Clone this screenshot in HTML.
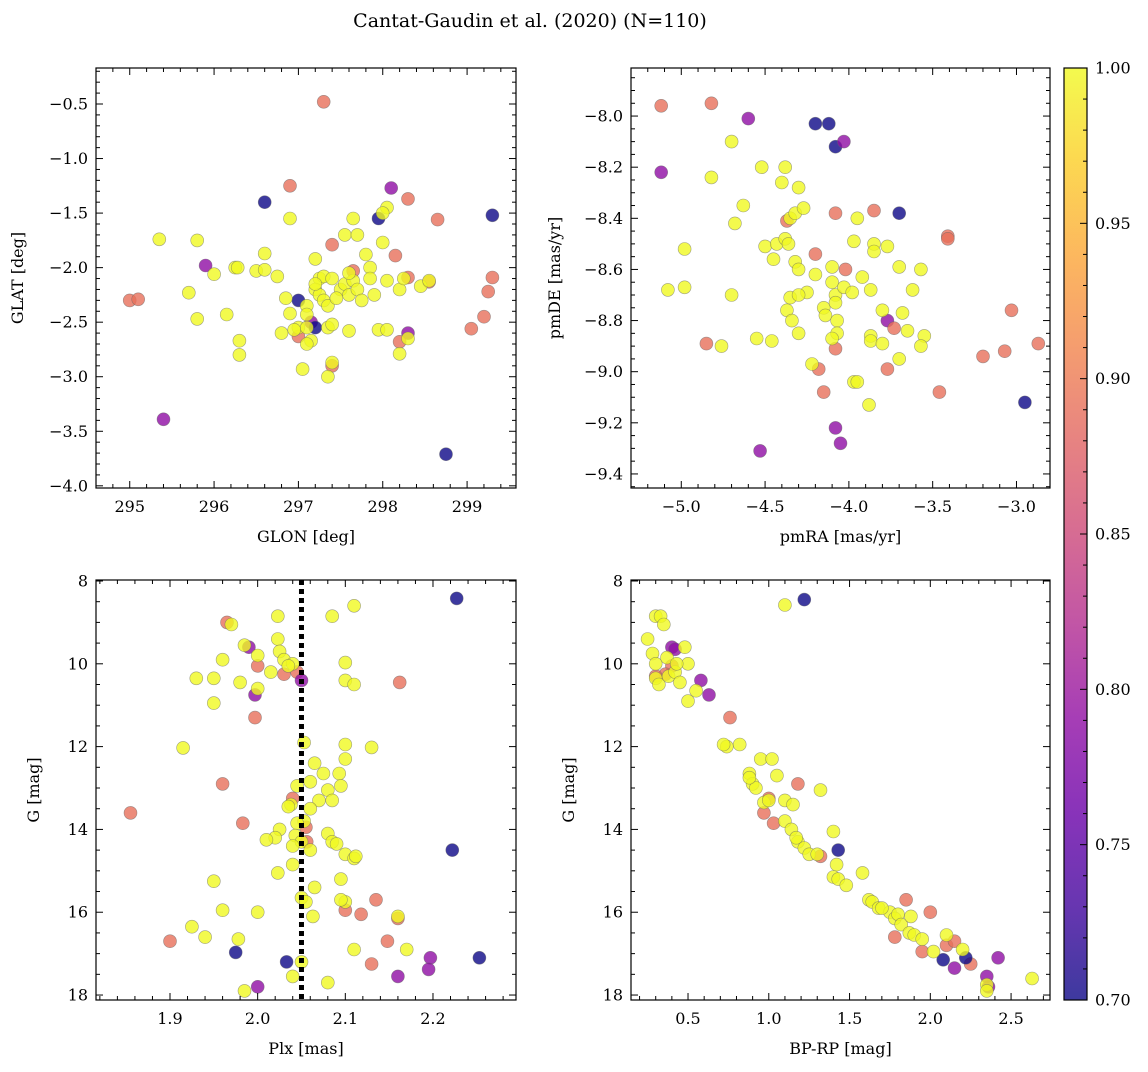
<!DOCTYPE html>
<html><head><meta charset="utf-8"><style>
body{margin:0;background:#fff}
svg text{font-family:"DejaVu Serif","Liberation Serif",serif;fill:#000}
</style></head><body>
<svg id="fig" width="1148" height="1067" viewBox="0 0 1148 1067" xmlns="http://www.w3.org/2000/svg">
<defs><linearGradient id="plasma" x1="0" y1="1" x2="0" y2="0">
<stop offset="0" stop-color="#0d0887"/><stop offset="0.1" stop-color="#41049d"/><stop offset="0.2" stop-color="#6a00a8"/><stop offset="0.3" stop-color="#8f0da4"/><stop offset="0.4" stop-color="#b12a90"/><stop offset="0.5" stop-color="#cc4778"/><stop offset="0.6" stop-color="#e16462"/><stop offset="0.7" stop-color="#f2844b"/><stop offset="0.8" stop-color="#fca636"/><stop offset="0.9" stop-color="#fcce25"/><stop offset="1" stop-color="#f0f921"/></linearGradient></defs>
<text x="530" y="27" font-size="19" text-anchor="middle">Cantat-Gaudin et al. (2020) (N=110)</text>
</svg>
<script>
const p1x=[297.3,296.6,296.9,298.1,298.3,299.3,298.65,297.95,295.9,297.4,298.15,297.65,298.3,299.3,298.55,295.0,295.1,297.0,299.25,299.2,299.05,297.15,297.2,297.0,298.3,298.2,297.4,295.4,298.75,
295.35,295.8,296.0,295.7,295.8,296.15,296.25,296.28,296.5,296.6,296.6,296.3,296.3,296.75,296.8,296.9,296.85,296.9,297.0,296.95,297.05,297.1,297.1,297.15,297.1,297.2,297.25,297.3,297.2,297.25,297.3,297.35,297.2,297.5,297.45,297.55,297.6,297.65,297.7,297.75,297.6,297.4,297.35,297.4,297.6,297.65,297.55,297.7,297.8,297.85,297.85,297.9,297.95,298.05,298.0,298.05,298.0,298.05,298.2,298.25,298.2,298.3,298.45,298.55,297.4,297.35,297.1];
const p1y=[-0.48,-1.4,-1.25,-1.27,-1.37,-1.52,-1.56,-1.55,-1.98,-1.79,-1.89,-2.03,-2.09,-2.09,-2.13,-2.3,-2.29,-2.3,-2.22,-2.45,-2.56,-2.5,-2.55,-2.63,-2.6,-2.68,-2.9,-3.39,-3.71,
-1.74,-1.75,-2.06,-2.23,-2.47,-2.43,-2.0,-2.0,-2.03,-2.02,-1.87,-2.67,-2.8,-2.08,-2.6,-1.55,-2.28,-2.42,-2.55,-2.57,-2.93,-2.35,-2.43,-2.67,-2.55,-1.92,-2.1,-2.08,-2.2,-2.25,-2.3,-2.35,-2.15,-2.2,-2.28,-2.15,-2.25,-2.12,-2.2,-2.3,-2.05,-2.1,-2.55,-2.52,-2.58,-1.55,-1.7,-1.7,-1.88,-2.0,-2.1,-2.25,-2.57,-2.57,-1.77,-1.45,-1.5,-2.12,-2.2,-2.1,-2.79,-2.65,-2.17,-2.12,-2.87,-3.0,-2.7];
const p1c="SDSPSDSDPSSSSSSSSDSSSPDSPSSPD";
const p2x=[-5.12,-4.82,-4.6,-4.2,-4.12,-4.08,-4.03,-5.12,-3.7,-4.08,-3.85,-4.37,-3.41,-3.41,-4.2,-4.02,-4.85,-3.77,-3.73,-4.08,-3.03,-3.2,-3.07,-2.87,-4.18,-3.77,-4.15,-3.46,-2.95,-4.08,-4.05,-4.53,
-4.7,-4.52,-4.38,-4.82,-4.4,-4.3,-4.63,-4.35,-4.32,-4.27,-4.68,-4.98,-4.5,-4.43,-4.38,-4.36,-4.45,-4.32,-4.3,-4.2,-4.1,-3.95,-3.85,-3.77,-3.7,-3.85,-3.97,-3.92,-4.1,-4.08,-4.03,-3.98,-4.25,-4.35,-4.3,-4.37,-4.34,-4.3,-4.15,-4.14,-4.08,-4.07,-4.07,-4.1,-3.87,-3.8,-3.68,-3.62,-3.57,-3.65,-3.55,-3.57,-3.87,-3.87,-3.8,-4.7,-5.08,-4.98,-4.76,-4.55,-4.46,-3.97,-3.95,-3.88,-4.22,-3.7];
const p2y=[-7.96,-7.95,-8.01,-8.03,-8.03,-8.12,-8.1,-8.22,-8.38,-8.38,-8.37,-8.41,-8.47,-8.48,-8.54,-8.6,-8.89,-8.8,-8.83,-8.91,-8.76,-8.94,-8.92,-8.89,-8.99,-8.99,-9.08,-9.08,-9.12,-9.22,-9.28,-9.31,
-8.1,-8.2,-8.2,-8.24,-8.26,-8.28,-8.35,-8.4,-8.38,-8.36,-8.42,-8.52,-8.51,-8.5,-8.48,-8.5,-8.56,-8.57,-8.6,-8.62,-8.59,-8.4,-8.5,-8.51,-8.59,-8.53,-8.49,-8.63,-8.65,-8.7,-8.67,-8.69,-8.69,-8.71,-8.7,-8.76,-8.8,-8.85,-8.75,-8.78,-8.73,-8.8,-8.85,-8.87,-8.68,-8.76,-8.77,-8.68,-8.6,-8.84,-8.86,-8.9,-8.86,-8.88,-8.89,-8.7,-8.68,-8.67,-8.9,-8.87,-8.88,-9.04,-9.04,-9.13,-8.97,-8.95];
const p2c="SSPDDDPPDSSSSSSSSPSSSSSSSSSSDPPP";
const p3x=[2.227,1.965,1.99,2.0,2.045,2.03,2.05,2.162,1.997,1.997,1.96,1.855,1.983,2.04,2.055,2.056,2.222,2.135,2.1,2.118,2.16,1.9,2.148,1.975,2.197,2.253,2.033,2.13,2.195,2.16,2.0,
2.11,2.085,2.023,1.97,2.023,1.985,2.025,2.0,1.96,2.03,2.04,2.035,2.015,1.98,1.93,1.95,2.1,2.1,2.11,2.0,1.95,1.915,2.053,2.1,2.13,2.1,2.065,2.06,2.075,2.093,2.08,2.095,2.085,2.07,2.045,2.038,2.035,2.06,2.053,2.045,2.043,2.05,2.025,2.02,2.01,2.04,2.06,2.08,2.085,2.09,2.1,2.11,2.112,2.04,2.023,1.95,2.05,2.065,2.055,2.063,2.095,2.1,2.095,1.96,2.0,1.925,1.94,1.978,2.16,2.17,2.11,2.05,2.04,2.08,1.985];
const p3y=[8.42,9.0,9.6,10.05,10.2,10.25,10.4,10.45,10.75,11.3,12.9,13.6,13.85,13.25,13.95,14.3,14.5,15.7,15.95,16.05,16.15,16.7,16.7,16.97,17.1,17.1,17.2,17.25,17.38,17.55,17.8,
8.6,8.85,8.85,9.05,9.4,9.55,9.7,9.8,9.9,9.9,10.0,10.05,10.2,10.45,10.35,10.35,9.97,10.4,10.5,10.6,10.95,12.03,11.9,11.95,12.02,12.3,12.4,12.85,12.65,12.65,13.05,12.95,13.3,13.3,12.95,13.4,13.45,13.5,13.8,13.85,14.15,14.3,14.0,14.2,14.25,14.4,14.5,14.1,14.3,14.35,14.6,14.7,14.65,14.85,15.05,15.25,15.65,15.4,15.75,16.1,15.2,15.75,15.7,15.95,16.0,16.35,16.6,16.65,16.1,16.9,16.9,17.2,17.55,17.7,17.9];
const p3c="DSPSSSPSPSSSSSSSDSSSSSSDPDDSPPP";
const p4x=[1.22,0.4,0.42,0.4,0.36,0.3,0.58,0.63,0.76,1.18,1.0,0.97,1.03,1.32,1.43,1.85,1.78,2.0,2.1,2.15,2.25,2.42,2.08,2.22,2.15,2.35,2.36,1.95,
0.25,0.3,0.33,0.35,0.28,0.3,0.3,0.32,0.37,0.38,0.42,0.45,0.5,0.43,0.48,0.55,0.5,1.1,0.74,0.72,0.82,0.88,0.9,0.92,0.88,0.95,0.97,1.0,1.02,1.05,1.1,1.1,1.15,1.14,1.18,1.17,1.22,1.25,1.3,1.32,1.4,1.42,1.4,1.43,1.48,1.58,1.62,1.64,1.68,1.75,1.7,1.78,1.8,1.82,1.88,1.87,1.9,1.95,2.02,2.1,2.2,2.35,2.35,2.63];
const p4y=[8.45,9.6,9.65,10.05,10.25,10.3,10.4,10.75,11.3,12.9,13.25,13.6,13.85,14.65,14.5,15.7,16.6,16.0,16.8,16.7,17.25,17.1,17.15,17.1,17.35,17.55,17.8,16.95,
9.4,8.85,8.85,9.05,9.75,10.0,10.35,10.5,9.85,10.3,10.2,10.45,10.0,10.0,9.6,10.65,10.9,8.58,12.0,11.95,11.95,12.65,12.9,13.0,12.75,12.3,13.35,13.3,12.3,12.7,13.3,13.8,13.4,14.0,14.3,14.2,14.45,14.6,14.6,13.05,14.05,14.85,15.15,15.2,15.35,15.05,15.7,15.75,15.9,16.0,15.9,16.15,16.05,16.3,16.1,16.5,16.55,16.65,16.95,16.55,16.9,17.75,17.9,17.6];
const p4c="DPPSSSPPSSSSSSDSSSSSSPDDPPPS";
const probMap={S:0.89,P:0.79,D:0.70,Y:1.0};
const cbTicks=[0.70,0.75,0.80,0.85,0.90,0.95,1.00];

const NS="http://www.w3.org/2000/svg";
const fig=document.getElementById('fig');
function mk(tag,attrs,parent){const e=document.createElementNS(NS,tag);for(const k in attrs)e.setAttribute(k,attrs[k]);(parent||fig).appendChild(e);return e;}
const stops=["#0d0887","#41049d","#6a00a8","#8f0da4","#b12a90","#cc4778","#e16462","#f2844b","#fca636","#fcce25","#f0f921"];
function hex(h){return [1,3,5].map(i=>parseInt(h.substr(i,2),16));}
function plasma(v){let t=Math.max(0,Math.min(1,(v-0.7)/0.3))*10;let i=Math.min(9,Math.floor(t));let f=t-i;const a=hex(stops[i]),b=hex(stops[i+1]);return 'rgb('+a.map((c,k)=>Math.round(c+(b[k]-c)*f)).join(',')+')';}
function fmt(v,d){return v.toFixed(d).replace('-','\u2212');}

function panel(o){
  const g=mk('g',{});
  
  
  const sx=v=>o.x0+(v-o.xmin)/(o.xmax-o.xmin)*(o.x1-o.x0);
  const sy=o.inv?(v=>o.y0+(v-o.ymin)/(o.ymax-o.ymin)*(o.y1-o.y0)):(v=>o.y1-(v-o.ymin)/(o.ymax-o.ymin)*(o.y1-o.y0));
  for(let i=0;i<o.xs.length;i++){
    const code=i<o.cs.length?o.cs[i]:'Y';
    const c=mk('circle',{cx:sx(o.xs[i]).toFixed(1),cy:sy(o.ys[i]).toFixed(1),r:6.5,fill:plasma(probMap[code]),'fill-opacity':0.8,stroke:'#666','stroke-opacity':0.6,'stroke-width':0.6},g);
    
    
  }
  if(o.vline!==undefined){
    const l=mk('line',{x1:sx(o.vline),x2:sx(o.vline),y1:o.y0,y2:o.y1,stroke:'#000','stroke-width':5,'stroke-dasharray':'5,4'},g);
    
    
  }
  const fr=mk('rect',{x:o.x0,y:o.y0,width:o.x1-o.x0,height:o.y1-o.y0,fill:'none',stroke:'#000','stroke-width':1.2},g);
  
  
  const eps=1e-9;
  const xs0=Math.ceil(o.xmin/o.xmin_step-eps)*o.xmin_step;
  for(let v=xs0;v<=o.xmax+eps;v+=o.xmin_step){
    const X=sx(v);const maj=Math.abs(v/o.xmaj-Math.round(v/o.xmaj))<1e-6;const L=maj?7:4;
    mk('line',{x1:X,x2:X,y1:o.y1,y2:o.y1-L,stroke:'#000','stroke-width':1},g);
    mk('line',{x1:X,x2:X,y1:o.y0,y2:o.y0+L,stroke:'#000','stroke-width':1},g);
    if(maj){const t=mk('text',{x:X,y:o.y1+24,'font-size':16,'text-anchor':'middle'},g);t.textContent=fmt(v,o.xd);
      }
  }
  const ys0=Math.ceil(o.ymin/o.ymin_step-eps)*o.ymin_step;
  for(let v=ys0;v<=o.ymax+eps;v+=o.ymin_step){
    const Y=sy(v);const maj=Math.abs(v/o.ymaj-Math.round(v/o.ymaj))<1e-6;const L=maj?7:4;
    mk('line',{x1:o.x0,x2:o.x0+L,y1:Y,y2:Y,stroke:'#000','stroke-width':1},g);
    mk('line',{x1:o.x1,x2:o.x1-L,y1:Y,y2:Y,stroke:'#000','stroke-width':1},g);
    if(maj){const t=mk('text',{x:o.x0-8,y:Y+5.5,'font-size':16,'text-anchor':'end'},g);t.textContent=fmt(v,o.yd);
      }
  }
  const xl=mk('text',{x:(o.x0+o.x1)/2,y:o.y1+54,'font-size':16,'text-anchor':'middle'},g);xl.textContent=o.xlabel;
  
  const yx=o.x0-o.ylabOff;const yy=(o.y0+o.y1)/2;
  const yl=mk('text',{x:yx,y:yy,'font-size':16,'text-anchor':'middle',transform:'rotate(-90 '+yx+' '+yy+')'},g);yl.textContent=o.ylabel;
  
}
panel({name:'glon-glat-panel',xs:p1x,ys:p1y,cs:p1c,x0:96,x1:516,y0:68,y1:488,xmin:294.6,xmax:299.58,ymin:-4.02,ymax:-0.17,xmaj:1,xmin_step:0.2,ymaj:0.5,ymin_step:0.1,xd:0,yd:1,xlabel:'GLON [deg]',ylabel:'GLAT [deg]',ylabOff:73});
panel({name:'proper-motion-panel',xs:p2x,ys:p2y,cs:p2c,x0:631,x1:1050,y0:68,y1:488,xmin:-5.30,xmax:-2.80,ymin:-9.455,ymax:-7.812,xmaj:0.5,xmin_step:0.1,ymaj:0.2,ymin_step:0.05,xd:1,yd:1,xlabel:'pmRA [mas/yr]',ylabel:'pmDE [mas/yr]',ylabOff:71});
panel({name:'parallax-mag-panel',xs:p3x,ys:p3y,cs:p3c,x0:96,x1:516,y0:580,y1:1000,xmin:1.8156,xmax:2.2947,ymin:7.976,ymax:18.12,inv:true,xmaj:0.1,xmin_step:0.02,ymaj:2,ymin_step:0.5,xd:1,yd:0,xlabel:'Plx [mas]',ylabel:'G [mag]',ylabOff:57,vline:2.05});
panel({name:'cmd-panel',xs:p4x,ys:p4y,cs:p4c,x0:631,x1:1050,y0:580,y1:1000,xmin:0.147,xmax:2.741,ymin:7.976,ymax:18.12,inv:true,xmaj:0.5,xmin_step:0.1,ymaj:2,ymin_step:0.5,xd:1,yd:0,xlabel:'BP-RP [mag]',ylabel:'G [mag]',ylabOff:57});
const cb=mk('g',{});


mk('rect',{x:1064,y:68,width:23,height:932,fill:'url(#plasma)','fill-opacity':0.8,stroke:'#000','stroke-width':1.2},cb);
for(let v=0.70;v<=1.0001;v+=0.01){
  const Y=1000-(v-0.7)/0.3*932;const maj=Math.abs(v*20-Math.round(v*20))<1e-6;
  mk('line',{x1:1087,x2:1087-(maj?7:4),y1:Y,y2:Y,stroke:'#000','stroke-width':1},cb);
}
cbTicks.forEach(v=>{const Y=1000-(v-0.7)/0.3*932;const t=mk('text',{x:1095,y:Y+5.5,'font-size':16},cb);t.textContent=v.toFixed(2);
  });
</script>
</body></html>
